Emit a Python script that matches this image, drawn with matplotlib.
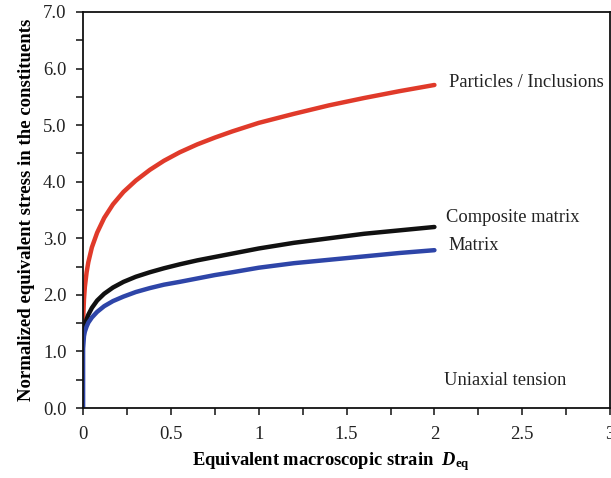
import matplotlib
matplotlib.use("Agg")
import matplotlib.pyplot as plt
from matplotlib.ticker import MultipleLocator, FuncFormatter

# Data
x_red = [0.0, 0.002, 0.005, 0.01, 0.02, 0.03, 0.05, 0.08, 0.12, 0.17, 0.23, 0.3, 0.38,
         0.46, 0.55, 0.65, 0.75, 0.85, 1.0, 1.2, 1.4, 1.6, 1.8, 2.0]
y_red = [1.40, 1.70, 1.92, 2.14, 2.40, 2.58, 2.84, 3.10, 3.36, 3.60, 3.82, 4.02, 4.21,
         4.37, 4.52, 4.66, 4.78, 4.89, 5.04, 5.20, 5.35, 5.48, 5.60, 5.71]

x_black = [0.0, 0.005, 0.01, 0.02, 0.03, 0.05, 0.08, 0.12, 0.17, 0.23, 0.3, 0.38,
           0.46, 0.55, 0.65, 0.75, 0.85, 1.0, 1.2, 1.4, 1.6, 1.8, 2.0]
y_black = [1.25, 1.38, 1.46, 1.57, 1.65, 1.77, 1.90, 2.02, 2.13, 2.23, 2.32, 2.40,
           2.47, 2.54, 2.61, 2.67, 2.73, 2.82, 2.92, 3.00, 3.08, 3.14, 3.20]

x_blue = [0.0, 0.0, 0.005, 0.01, 0.02, 0.03, 0.05, 0.08, 0.12, 0.17, 0.23, 0.3, 0.38,
          0.46, 0.55, 0.65, 0.75, 0.85, 1.0, 1.2, 1.4, 1.6, 1.8, 2.0]
y_blue = [0.0, 1.05, 1.27, 1.35, 1.44, 1.51, 1.60, 1.70, 1.80, 1.89, 1.97, 2.05, 2.12,
          2.18, 2.23, 2.29, 2.35, 2.40, 2.48, 2.56, 2.62, 2.68, 2.74, 2.79]

labels = ["Particles / Inclusions", "Composite matrix", "Matrix"]
colors = ["#e03a2a", "#111111", "#2e45a8"]

plt.rcParams['font.family'] = ['Liberation Serif', 'DejaVu Serif']
plt.rcParams['mathtext.fontset'] = 'custom'
plt.rcParams['mathtext.rm'] = 'Liberation Serif'
plt.rcParams['mathtext.it'] = 'Liberation Serif:italic:bold'
plt.rcParams['mathtext.bf'] = 'Liberation Serif:bold'

fig = plt.figure(figsize=(6.11, 4.78), dpi=100)
ax = fig.add_axes([0.136, 0.1464, 0.8625, 0.8285])

lw = 3.2
for xs, ys, c in [(x_red, y_red, colors[0]), (x_black, y_black, colors[1]),
                  (x_blue, y_blue, colors[2])]:
    ax.plot(xs, ys, color=c, lw=lw, solid_capstyle='round', solid_joinstyle='round')

ax.set_xlim(0, 3)
ax.set_ylim(0, 7)
ax.xaxis.set_major_locator(MultipleLocator(0.5))
ax.xaxis.set_minor_locator(MultipleLocator(0.25))
ax.yaxis.set_major_locator(MultipleLocator(1.0))
ax.yaxis.set_minor_locator(MultipleLocator(0.5))
ax.xaxis.set_major_formatter(FuncFormatter(lambda v, p: f"{v:g}"))
ax.yaxis.set_major_formatter(FuncFormatter(lambda v, p: f"{v:.1f}"))
ax.tick_params(which='both', direction='out', length=5, width=1.2, top=False, right=False,
               labelsize=13.5, colors='#222222', pad=7)
ax.tick_params(axis='x', pad=8)
for s in ax.spines.values():
    s.set_linewidth(1.3)
    s.set_color('#111111')

ax.set_xlabel(r"Equivalent macroscopic strain  $D_{\mathbf{eq}}$", fontsize=13.3,
              fontweight='bold', labelpad=8)
ax.xaxis.set_label_coords(0.471, -0.105)
ax.set_ylabel("Normalized equivalent stress in the constituents", fontsize=13.5,
              fontweight='bold', labelpad=6)

fs = 13.3
ax.text(2.085, 5.76, labels[0], fontsize=fs, color='#222222', va='center')
ax.text(2.068, 3.36, labels[1], fontsize=fs, color='#222222', va='center')
ax.text(2.08, 2.88, labels[2], fontsize=fs, color='#222222', va='center')
ax.text(2.057, 0.48, "Uniaxial tension", fontsize=fs, color='#222222', va='center')

fig.savefig("out.png", dpi=100)
